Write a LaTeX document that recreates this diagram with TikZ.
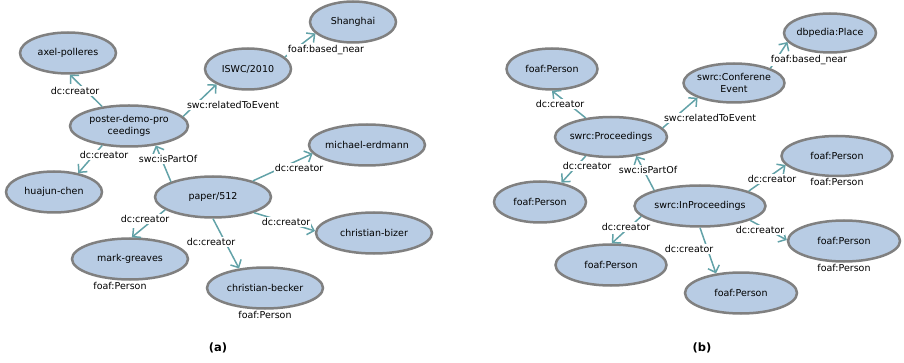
\documentclass[tikz,border=0pt]{standalone}
\usepackage{fontspec}
\setmainfont{DejaVu Sans}
\usepackage{tikz}
\usetikzlibrary{arrows.meta,positioning,shapes.geometric}
\definecolor{graphblue}{RGB}{184,204,228}
\definecolor{graphgray}{RGB}{128,128,128}
\definecolor{graphteal}{RGB}{98,162,168}
\tikzset{
  graphnode/.style={
    ellipse,
    draw=graphgray,
    fill=graphblue,
    line width=2.5pt,
    align=center,
    minimum height=41pt,
    inner xsep=-4pt,
    inner ysep=0pt,
    font=\fontsize{9.5}{12}\selectfont
  },
  edgelabel/.style={
    fill=white,
    inner sep=1pt,
    font=\fontsize{9.5}{12}\selectfont
  },
  typelabel/.style={
    inner sep=1pt,
    font=\fontsize{9.5}{12}\selectfont
  },
  graphedge/.style={
    -{Straight Barb[length=6pt,width=12pt]},
    line width=1.5pt,
    draw=graphteal
  },
  caption/.style={
    font=\bfseries\fontsize{11.5}{13}\selectfont
  }
}

\begin{document}
\begin{tikzpicture}[x=1pt,y=-1pt]
\useasboundingbox (0,0) rectangle (904,363);

\node[graphnode, minimum width=86pt] (shanghai) at (353,22) {Shanghai};
\node[graphnode, minimum width=96pt] (axel) at (68,53) {axel-polleres};
\node[graphnode, minimum width=86pt] (iswc) at (248,69) {ISWC/2010};
\node[graphnode, minimum width=118pt] (poster) at (129,126) {poster-demo-pro\\ceedings};
\node[graphnode, minimum width=116pt] (michael) at (367,145) {michael-erdmann};
\node[graphnode, minimum width=96pt] (huajun) at (54,192) {huajun-chen};
\node[graphnode, minimum width=116pt] (paper) at (213,197) {paper/512};
\node[graphnode, minimum width=116pt] (bizer) at (374,233) {christian-bizer};
\node[graphnode, minimum width=116pt] (greaves) at (130,259) {mark-greaves};
\node[graphnode, minimum width=116pt] (becker) at (265,288) {christian-becker};
\node[typelabel, below=0pt of greaves, xshift=-10pt] (greavestype) {foaf:Person};
\node[typelabel, below=0pt of becker] (beckertype) {foaf:Person};

\draw[graphedge] (poster.144) -- (axel.-85) node[edgelabel] at (75,91) {dc:creator};
\draw[graphedge] (poster.10) -- (iswc.206) node[edgelabel] at (233,105) {swc:relatedToEvent};
\draw[graphedge] (iswc.18) -- (shanghai.197) node[edgelabel] at (326,50) {foaf:based\_near};
\draw[graphedge] (poster.216) -- (huajun.38) node[edgelabel] at (104,155) {dc:creator};
\draw[graphedge] (paper.160) -- (poster.-36) node[edgelabel] at (168,159) {swc:isPartOf};
\draw[graphedge] (paper.22) -- (michael.189) node[edgelabel] at (299,168) {dc:creator};
\draw[graphedge] (paper.195) -- (greaves.85) node[edgelabel] at (145,219) {dc:creator};
\draw[graphedge] (paper.-21) -- (bizer.178) node[edgelabel] at (286,222) {dc:creator};
\draw[graphedge] (paper.270) -- (becker.143) node[edgelabel] at (211,242) {dc:creator};

\node[graphnode, minimum width=91pt] (person1) at (552,69) {foaf:Person};
\node[graphnode, minimum width=92pt, minimum height=39pt] (place) at (830,33) {dbpedia:Place};
\node[graphnode, minimum width=101pt, minimum height=39pt] (event) at (734,83) {swrc:Conferene\\Event};
\node[graphnode, minimum width=112pt, minimum height=40pt] (proc) at (611,137) {swrc:Proceedings};
\node[graphnode, minimum width=111pt, minimum height=40pt] (person2) at (837,156) {foaf:Person};
\node[graphnode, minimum width=92pt] (person3) at (540,202) {foaf:Person};
\node[graphnode, minimum width=131pt] (inproc) at (700,206) {swrc:InProceedings};
\node[graphnode, minimum width=112pt] (person4) at (844,241) {foaf:Person};
\node[graphnode, minimum width=111pt] (person5) at (611,265) {foaf:Person};
\node[graphnode, minimum width=112pt] (person6) at (741,293) {foaf:Person};
\node[typelabel, below=0pt of person2] (person2type) {foaf:Person};
\node[typelabel, below=0pt of person4] (person4type) {foaf:Person};

\draw[graphedge] (proc.143) -- (person1.-90) node[edgelabel] at (560,104) {dc:creator};
\draw[graphedge] (proc.10) -- (event.202) node[edgelabel] at (710,118) {swc:relatedToEvent};
\draw[graphedge] (event.22) -- (place.192) node[edgelabel] at (809,60) {foaf:based\_near};
\draw[graphedge] (proc.217) -- (person3.42) node[edgelabel] at (587,166) {dc:creator};
\draw[graphedge] (inproc.161) -- (proc.-37) node[edgelabel] at (648,170) {swc:isPartOf};
\draw[graphedge] (inproc.17) -- (person2.190) node[edgelabel] at (772,179) {dc:creator};
\draw[graphedge] (inproc.190) -- (person5.88) node[edgelabel] at (626,227) {dc:creator};
\draw[graphedge] (inproc.-16) -- (person4.179) node[edgelabel] at (760,230) {dc:creator};
\draw[graphedge] (inproc.270) -- (person6.142) node[edgelabel] at (689,249) {dc:creator};

\node[caption] (capa) at (218,348) {(a)};
\node[caption] (capb) at (702,348) {(b)};
\end{tikzpicture}
\end{document}
